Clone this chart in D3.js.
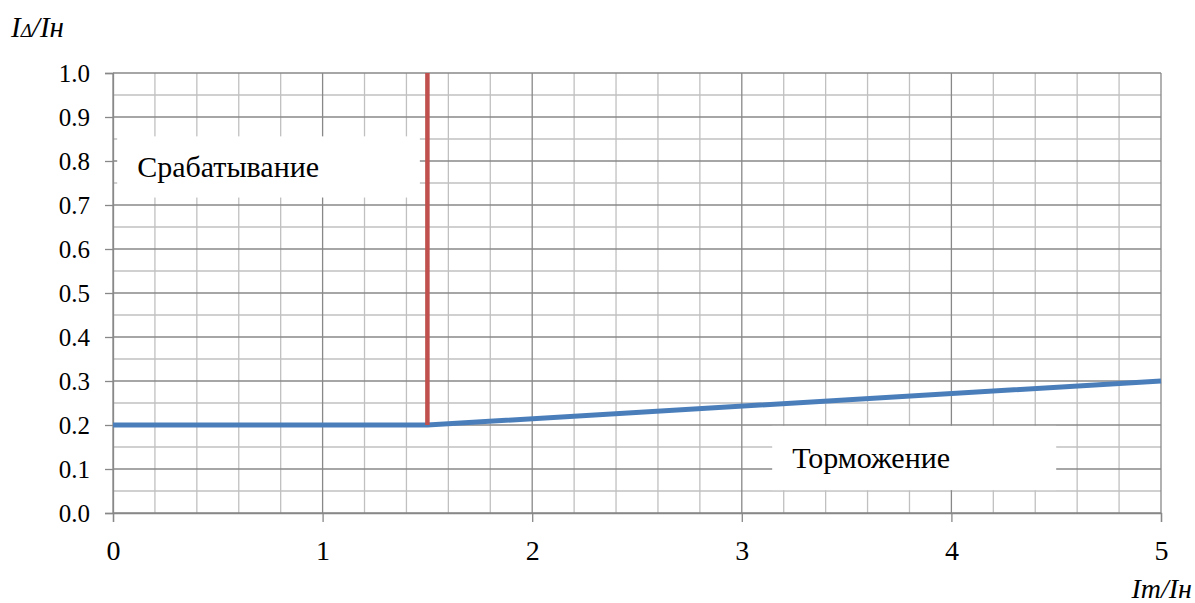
<!DOCTYPE html>
<html>
<head>
<meta charset="utf-8">
<script src="https://cdn.jsdelivr.net/npm/d3@7"></script>
<style>
  html, body { margin: 0; padding: 0; background: #fff; }
  svg { display: block; }
</style>
</head>
<body>
<svg id="chart" width="1195" height="603"></svg>
<script>
// Differential protection characteristic: I_Δ/I_н versus I_т/I_н
const restraintX = [0, 1.5, 5];          // Iт/Iн
const operateY   = [0.2, 0.2, 0.3];      // IΔ/Iн
const boundaryX  = [1.5, 1.5];
const boundaryY  = [0.2, 1.0];

const xTicks = [0, 1, 2, 3, 4, 5];
const yTicks = [0, 0.1, 0.2, 0.3, 0.4, 0.5, 0.6, 0.7, 0.8, 0.9, 1.0];
const xMinor = d3.range(0, 5.0001, 0.2).map(v => +v.toFixed(2));
const yMinor = d3.range(0, 1.0001, 0.05).map(v => +v.toFixed(2));

const regionLabels = ["Срабатывание", "Торможение"];

const FONT = "'Liberation Serif', 'DejaVu Serif', serif";

const svg = d3.select("#chart");
const plotLeft = 113, plotRight = 1161, plotTop = 73, plotBottom = 513;

const x = d3.scaleLinear().domain([0, 5]).range([plotLeft, plotRight]);
const y = d3.scaleLinear().domain([0, 1]).range([plotBottom, plotTop]);

const minorColor = "#c0c0c0";
const majorColor = "#888888";

// minor grid
svg.append("g").selectAll("line").data(xMinor.filter(v => Math.abs(v - Math.round(v)) > 1e-6))
  .join("line")
  .attr("x1", d => x(d)).attr("x2", d => x(d))
  .attr("y1", y(0)).attr("y2", y(1))
  .attr("stroke", minorColor).attr("stroke-width", 1.3);
svg.append("g").selectAll("line").data(yMinor.filter(v => Math.abs(v * 10 - Math.round(v * 10)) > 1e-6))
  .join("line")
  .attr("x1", x(0)).attr("x2", x(5))
  .attr("y1", d => y(d)).attr("y2", d => y(d))
  .attr("stroke", minorColor).attr("stroke-width", 1.3);

// major grid
svg.append("g").selectAll("line").data(xTicks)
  .join("line")
  .attr("x1", d => x(d)).attr("x2", d => x(d))
  .attr("y1", y(0)).attr("y2", y(1))
  .attr("stroke", majorColor).attr("stroke-width", 1.3);
svg.append("g").selectAll("line").data(yTicks)
  .join("line")
  .attr("x1", x(0)).attr("x2", x(5))
  .attr("y1", d => y(d)).attr("y2", d => y(d))
  .attr("stroke", majorColor).attr("stroke-width", 1.3);

// axes
const yAxis = svg.append("g")
  .attr("transform", `translate(${x(0)},0)`)
  .call(d3.axisLeft(y).tickValues(yTicks).tickFormat(d3.format(".1f")).tickSize(8).tickPadding(15));
yAxis.attr("font-family", null).attr("font-size", null);
yAxis.select(".domain").attr("stroke", majorColor).attr("stroke-width", 1.3);
yAxis.selectAll(".tick line").attr("stroke", majorColor).attr("stroke-width", 1.3);
yAxis.selectAll(".tick text")
  .style("font-family", FONT).style("font-size", "25px").attr("fill", "#000");

const xAxis = svg.append("g")
  .attr("transform", `translate(0,${y(0)})`)
  .call(d3.axisBottom(x).tickValues(xTicks).tickFormat(d3.format("d")).tickSize(9).tickPadding(18));
xAxis.attr("font-family", null).attr("font-size", null);
xAxis.select(".domain").attr("stroke", majorColor).attr("stroke-width", 1.3);
xAxis.selectAll(".tick line").attr("stroke", majorColor).attr("stroke-width", 1.3);
xAxis.selectAll(".tick text")
  .style("font-family", FONT).style("font-size", "28px").attr("fill", "#000");

// region label boxes
const boxes = [
  { label: regionLabels[0], x0: 0.02, x1: 1.464, y0: 0.856, y1: 0.717 },
  { label: regionLabels[1], x0: 3.145, x1: 4.50, y0: 0.198, y1: 0.052 }
];
const bg = svg.append("g");
boxes.forEach(b => {
  bg.append("rect")
    .attr("x", x(b.x0)).attr("y", y(b.y0))
    .attr("width", x(b.x1) - x(b.x0)).attr("height", y(b.y1) - y(b.y0))
    .attr("fill", "#fff");
  bg.append("text")
    .attr("x", x(b.x0) + 20)
    .attr("y", (y(b.y0) + y(b.y1)) / 2 + 10)
    .style("font-family", FONT).style("font-size", "30px")
    .attr("fill", "#000")
    .text(b.label);
});

// characteristic lines
const line = d3.line().x(d => x(d[0])).y(d => y(d[1]));
svg.append("path")
  .datum(d3.zip(restraintX, operateY))
  .attr("d", line)
  .attr("fill", "none").attr("stroke", "#4a7ebb").attr("stroke-width", 5)
  .attr("stroke-linejoin", "round");
svg.append("path")
  .datum(d3.zip(boundaryX, boundaryY))
  .attr("d", line)
  .attr("fill", "none").attr("stroke", "#c0504d").attr("stroke-width", 4.5);

// axis titles
const yt = svg.append("text").attr("x", 11).attr("y", 37)
  .style("font-family", FONT).style("font-size", "29px").style("font-style", "italic");
yt.append("tspan").text("I");
yt.append("tspan").style("font-size", "19px").text("Δ");
yt.append("tspan").text("/Iн");

svg.append("text").attr("x", 1192).attr("y", 598)
  .attr("text-anchor", "end")
  .style("font-family", FONT).style("font-size", "28px").style("font-style", "italic")
  .text("Iт/Iн");
</script>
</body>
</html>
